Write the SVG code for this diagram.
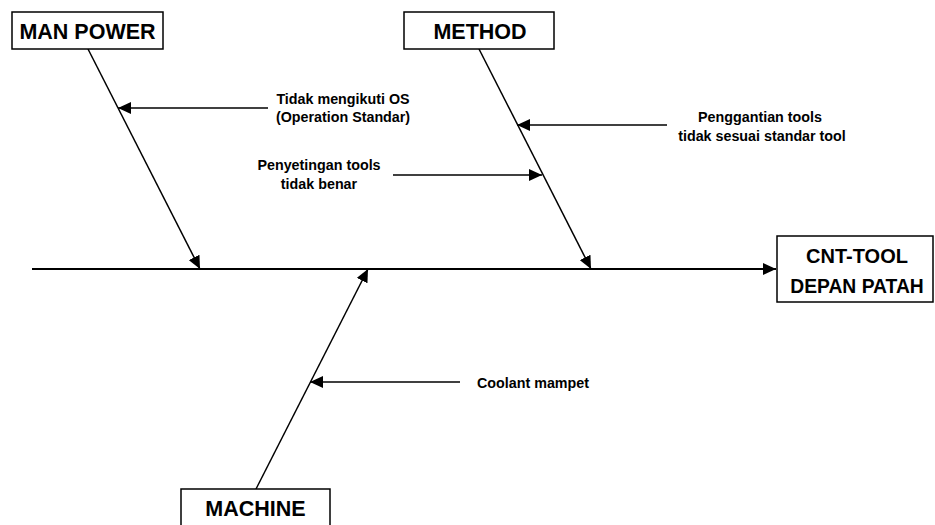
<svg xmlns="http://www.w3.org/2000/svg" width="935" height="525" viewBox="0 0 935 525">
<style>
.box{fill:#fff;stroke:#000;stroke-width:1.5}
.big{font-family:"Liberation Sans",Arial,sans-serif;font-weight:bold;font-size:21.5px;fill:#000;text-anchor:middle}
.sm{font-family:"Liberation Sans",Arial,sans-serif;font-weight:bold;font-size:14.3px;fill:#000;text-anchor:middle}
.ln{stroke:#000;stroke-width:1.5;fill:none;marker-end:url(#ah)}
</style>
<defs>
<marker id="ah" markerUnits="userSpaceOnUse" markerWidth="14" markerHeight="12" refX="13" refY="6" orient="auto">
<path d="M0,0 L13,6 L0,12 Z" fill="#000"/>
</marker>
</defs>
<rect width="935" height="525" fill="#fff"/>
<g id="connectors">
<line class="ln" x1="32" y1="269" x2="776" y2="269" style="stroke-width:2"/>
<line class="ln" x1="88" y1="49" x2="200" y2="269"/>
<line class="ln" x1="479" y1="49" x2="591" y2="269"/>
<line class="ln" x1="256" y1="489" x2="368" y2="269"/>
<line class="ln" x1="268" y1="108" x2="118" y2="108"/>
<line class="ln" x1="393" y1="175" x2="542" y2="175"/>
<line class="ln" x1="667" y1="125" x2="517" y2="125"/>
<line class="ln" x1="460" y1="382" x2="310" y2="382"/>
</g>
<g id="man-power">
<rect class="box" x="12" y="12" width="151" height="37"/>
<text class="big" x="87.5" y="38.5">MAN POWER</text>
</g>
<g id="method">
<rect class="box" x="404" y="12" width="150" height="37"/>
<text class="big" x="480" y="38.5">METHOD</text>
</g>
<g id="machine">
<rect class="box" x="181" y="489" width="149" height="40"/>
<text class="big" x="255.5" y="515.5">MACHINE</text>
</g>
<g id="effect">
<rect class="box" x="777" y="236" width="156" height="66"/>
<text class="big" x="857" y="263" style="font-size:20px">CNT-TOOL</text>
<text class="big" x="857" y="293" style="font-size:19.3px">DEPAN PATAH</text>
</g>
<g id="cause-os">
<text class="sm" x="343" y="104">Tidak mengikuti OS</text>
<text class="sm" x="343" y="122">(Operation Standar)</text>
</g>
<g id="cause-setting">
<text class="sm" x="319" y="170">Penyetingan tools</text>
<text class="sm" x="319" y="189">tidak benar</text>
</g>
<g id="cause-ganti">
<text class="sm" x="760" y="122">Penggantian tools</text>
<text class="sm" x="762" y="141">tidak sesuai standar tool</text>
</g>
<g id="cause-coolant">
<text class="sm" x="477" y="388" style="text-anchor:start">Coolant mampet</text>
</g>
</svg>
